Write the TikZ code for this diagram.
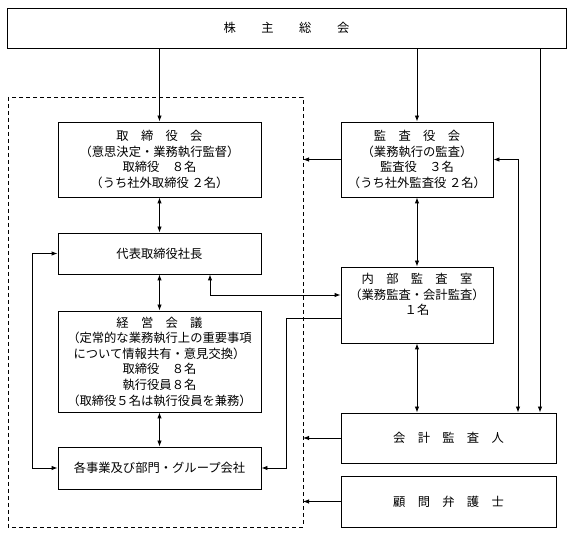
\documentclass[tikz,border=0pt]{standalone}
\usepackage{fontspec}
\newfontfamily\jp{Noto Sans CJK JP}
\usetikzlibrary{arrows.meta}
\begin{document}
\begin{tikzpicture}[x=1pt,y=-1pt,
  box/.style={draw,line width=0.9pt,align=center,inner sep=0pt,
    font=\jp\fontsize{12.3}{15.6}\selectfont},
  conn/.style={line width=0.9pt,>={Latex[length=6pt,width=4.5pt]}},
  frame/.style={dashed,line width=0.9pt,dash pattern=on 4pt off 3pt}]
\useasboundingbox[fill=white] (0,0) rectangle (574,534);
% dashed company frame
\draw[frame] (8,97) rectangle (303,527);
\coordinate (dR) at (303,0);
% nodes
\node[box,minimum width=559pt,minimum height=40pt] (gm) at (286.5,28)
  {株\hspace{25.5pt}主\hspace{25.5pt}総\hspace{25.5pt}会};
\node[box,minimum width=203pt,minimum height=75pt] (tb) at (159.5,159.5)
  {取　締　役　会\\（意思決定・業務執行監督）\\取締役　８名\\（うち社外取締役 ２名）};
\node[box,minimum width=203pt,minimum height=41pt] (pres) at (159.5,253.5)
  {代表取締役社長};
\node[box,minimum width=203pt,minimum height=101pt] (keiei) at (159.5,361.5)
  {経　営　会　議\\（定常的な業務執行上の重要事項\\について情報共有・意見交換）\\取締役　８名\\執行役員８名\\（取締役５名は執行役員を兼務）};
\node[box,minimum width=203pt,minimum height=42pt] (jigyo) at (159.5,468)
  {各事業及び部門・グループ会社};
\node[box,minimum width=152pt,minimum height=75pt] (kansa) at (417,159.5)
  {監　査　役　会\\（業務執行の監査）\\監査役　３名\\（うち社外監査役 ２名）};
\node[box,minimum width=152pt,minimum height=76pt] (naibu) at (417,305)
  {内　部　監　査　室\\（業務監査・会計監査）\\１名\\[6pt]};
\node[box,minimum width=215pt,minimum height=50pt] (kaikei) at (448.5,438)
  {会　計　監　査　人};
\node[box,minimum width=215pt,minimum height=51pt] (komon) at (448.5,501.5)
  {顧　問　弁　護　士};
% helper coordinates
\coordinate (c1) at (540,0);
\coordinate (c2) at (518,0);
\coordinate (c3) at (210,295);
\coordinate (c4) at (286,318);
% connectors
\draw[conn,->] (gm.south -| tb) -- (tb.north);
\draw[conn,->] (gm.south -| kansa) -- (kansa.north);
\draw[conn,->] (gm.south -| c1) -- (kaikei.north -| c1);
\draw[conn,<->] (kansa.east) -| (kaikei.north -| c2);
\draw[conn,->] (kansa.west) -- (kansa.west -| dR);
\draw[conn,<->] (kansa.south) -- (naibu.north);
\draw[conn,<->] (naibu.south) -- (naibu.south |- kaikei.north);
\draw[conn,->] (kaikei.west) -- (kaikei.west -| dR);
\draw[conn,->] (komon.west) -- (komon.west -| dR);
\draw[conn,<->] (tb.south) -- (pres.north);
\draw[conn,<->] (pres.south) -- (keiei.north);
\draw[conn,<->] (keiei.south) -- (jigyo.north);
\draw[conn,<->] (pres.west) -- ++(-25,0) |- (jigyo.west);
\draw[conn,<->] (pres.south -| c3) |- (naibu.west |- c3);
\draw[conn,->] (naibu.west |- c4) -- (c4) |- (jigyo.east);
\end{tikzpicture}
\end{document}
